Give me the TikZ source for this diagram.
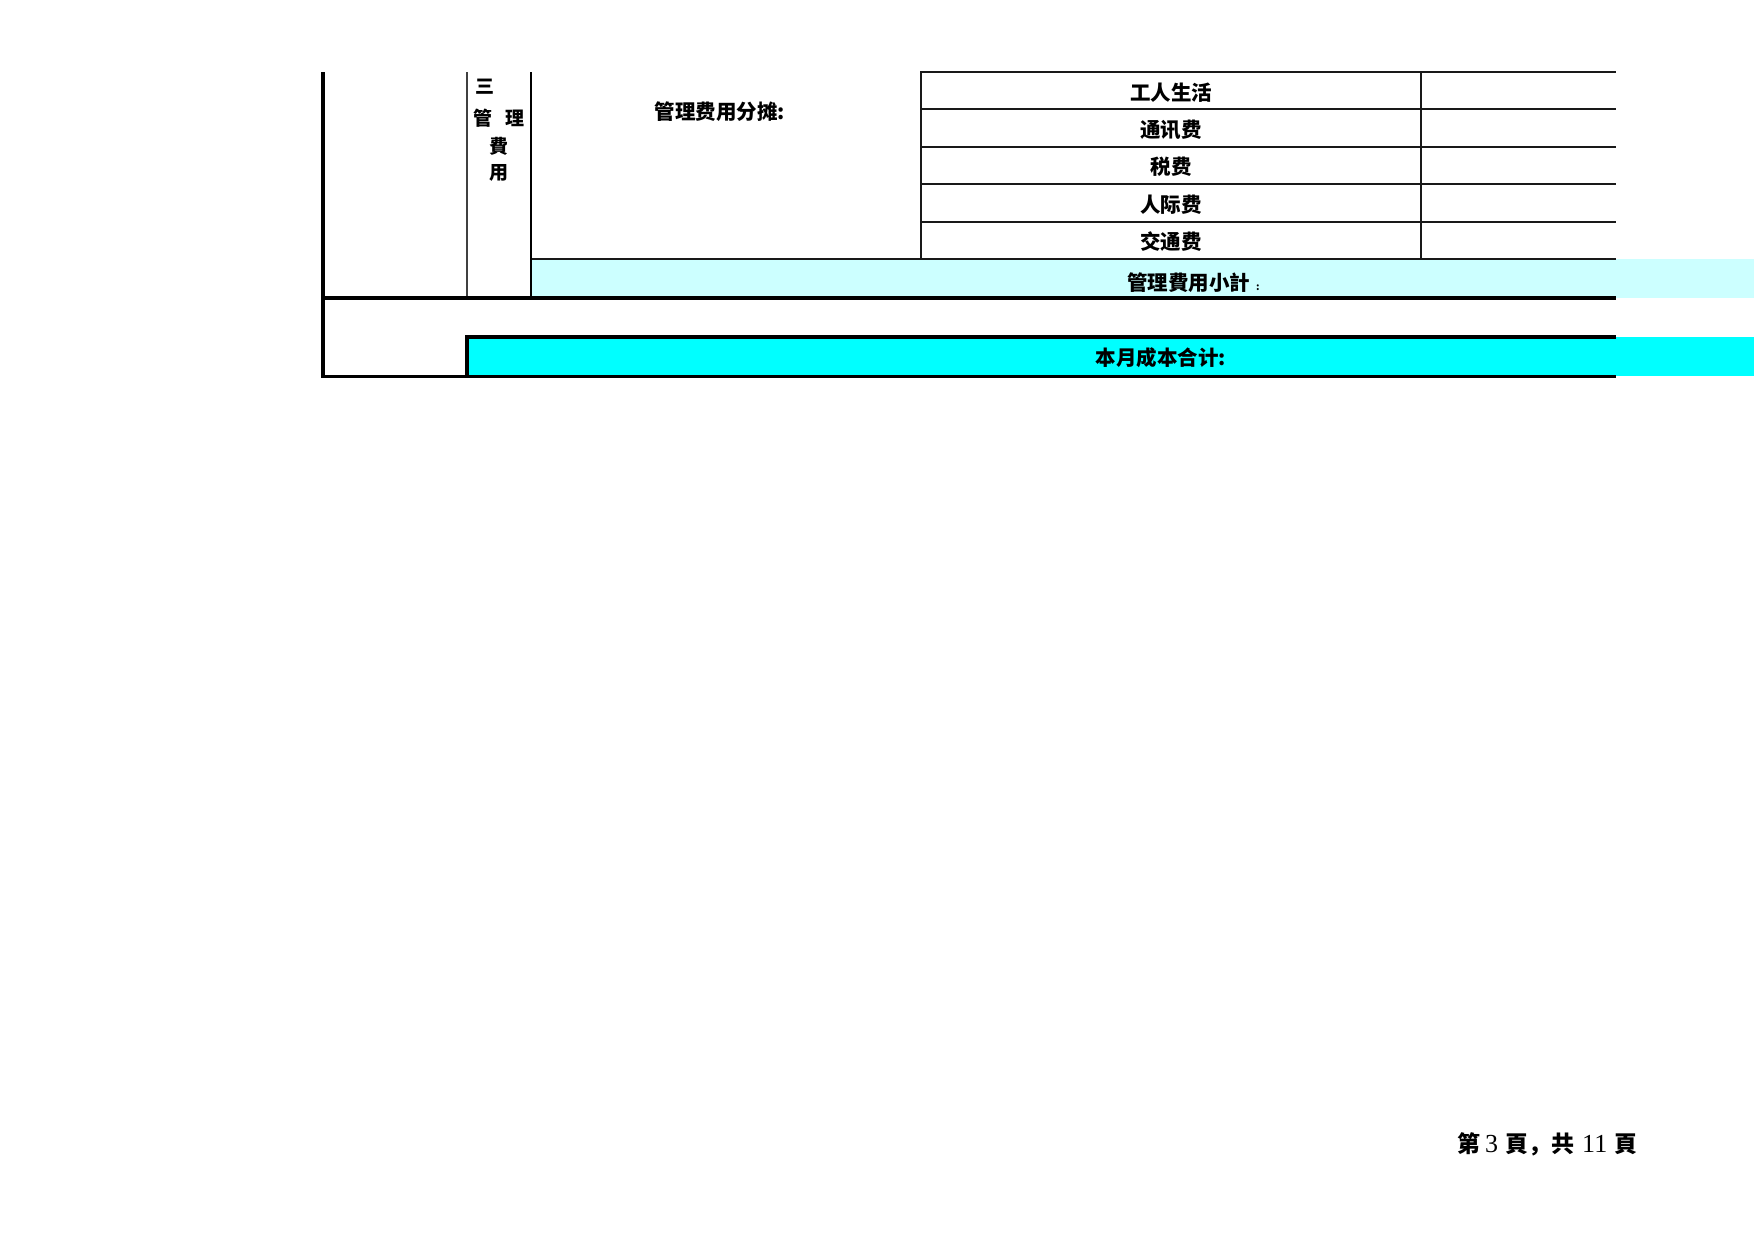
\documentclass[tikz,border=0pt]{standalone}
\usepackage{fontspec}
\newfontfamily\cjk{Noto Sans CJK SC}
\newfontfamily\serifdig{Liberation Serif}
\definecolor{lcyan}{HTML}{CCFFFF}
\definecolor{fcyan}{HTML}{00FFFF}
\begin{document}
\begin{tikzpicture}[x=1pt,y=-1pt,
  heavyrule/.style={line width=3.4pt,black},
  midrule/.style={line width=2pt,black},
  gridrule/.style={line width=1.8pt,black!90},
  hairrule/.style={line width=1.4pt,black!75},
  cell/.style={inner sep=0pt,font=\cjk\bfseries\fontsize{20.5}{24}\selectfont},
  vcell/.style={inner sep=0pt,font=\cjk\bfseries\fontsize{19}{22}\selectfont}]
\useasboundingbox (0,0) rectangle (1754,1240);
\fill[white] (0,0) rectangle (1754,1240);
% fills
\fill[lcyan] (531,259) rectangle (1754,298);
\fill[fcyan] (467,337) rectangle (1754,376);
% table grid
\foreach \yy in {72,109,147,184,222}{\draw[gridrule] (920,\yy) -- (1616,\yy);}
\draw[gridrule] (530,259) -- (1616,259);
\draw[gridrule] (921,71) -- (921,259);
\draw[gridrule] (1421,71) -- (1421,259);
\draw[hairrule] (467,72) -- (467,298);
\draw[midrule] (530.5,72) -- (530.5,298);
\draw[heavyrule] (323,72) -- (323,378);
\draw[heavyrule] (321.3,298) -- (1616,298);
\draw[heavyrule] (465.3,337) -- (1616,337);
\draw[heavyrule] (467,337) -- (467,376);
\draw[heavyrule] (321.3,376.5) -- (1616,376.5);
% texts
\node[vcell] (s3) at (485,87) {三};
\node[vcell] (sg) at (483,118) {管};
\node[vcell] (sl) at (515,118) {理};
\node[vcell] (sf) at (499,146) {費};
\node[vcell] (sy) at (499,173) {用};
\node[cell] (alloc) at (720,112) {管理费用分摊:};
\node[cell] (r1) at (1171,93) {工人生活};
\node[cell] (r2) at (1171,130) {通讯费};
\node[cell] (r3) at (1171,167) {税费};
\node[cell] (r4) at (1171,205) {人际费};
\node[cell] (r5) at (1171,242) {交通费};
\node[cell,anchor=base west] (sub) at (1127,290) {管理費用小計\hspace{6pt}{\fontsize{10}{12}\selectfont :}};
\node[cell] (total) at (1161,358) {本月成本合计:};
\node[inner sep=0pt,anchor=base west,font=\cjk\bfseries\fontsize{23}{27}\selectfont] (foot) at (1457,1152)
  {第\hspace{5pt}{\serifdig\mdseries\fontsize{26}{29}\selectfont 3}\hspace{7pt}頁，共\hspace{8pt}{\serifdig\mdseries\fontsize{26}{29}\selectfont 11}\hspace{7pt}頁};
\end{tikzpicture}
\end{document}
